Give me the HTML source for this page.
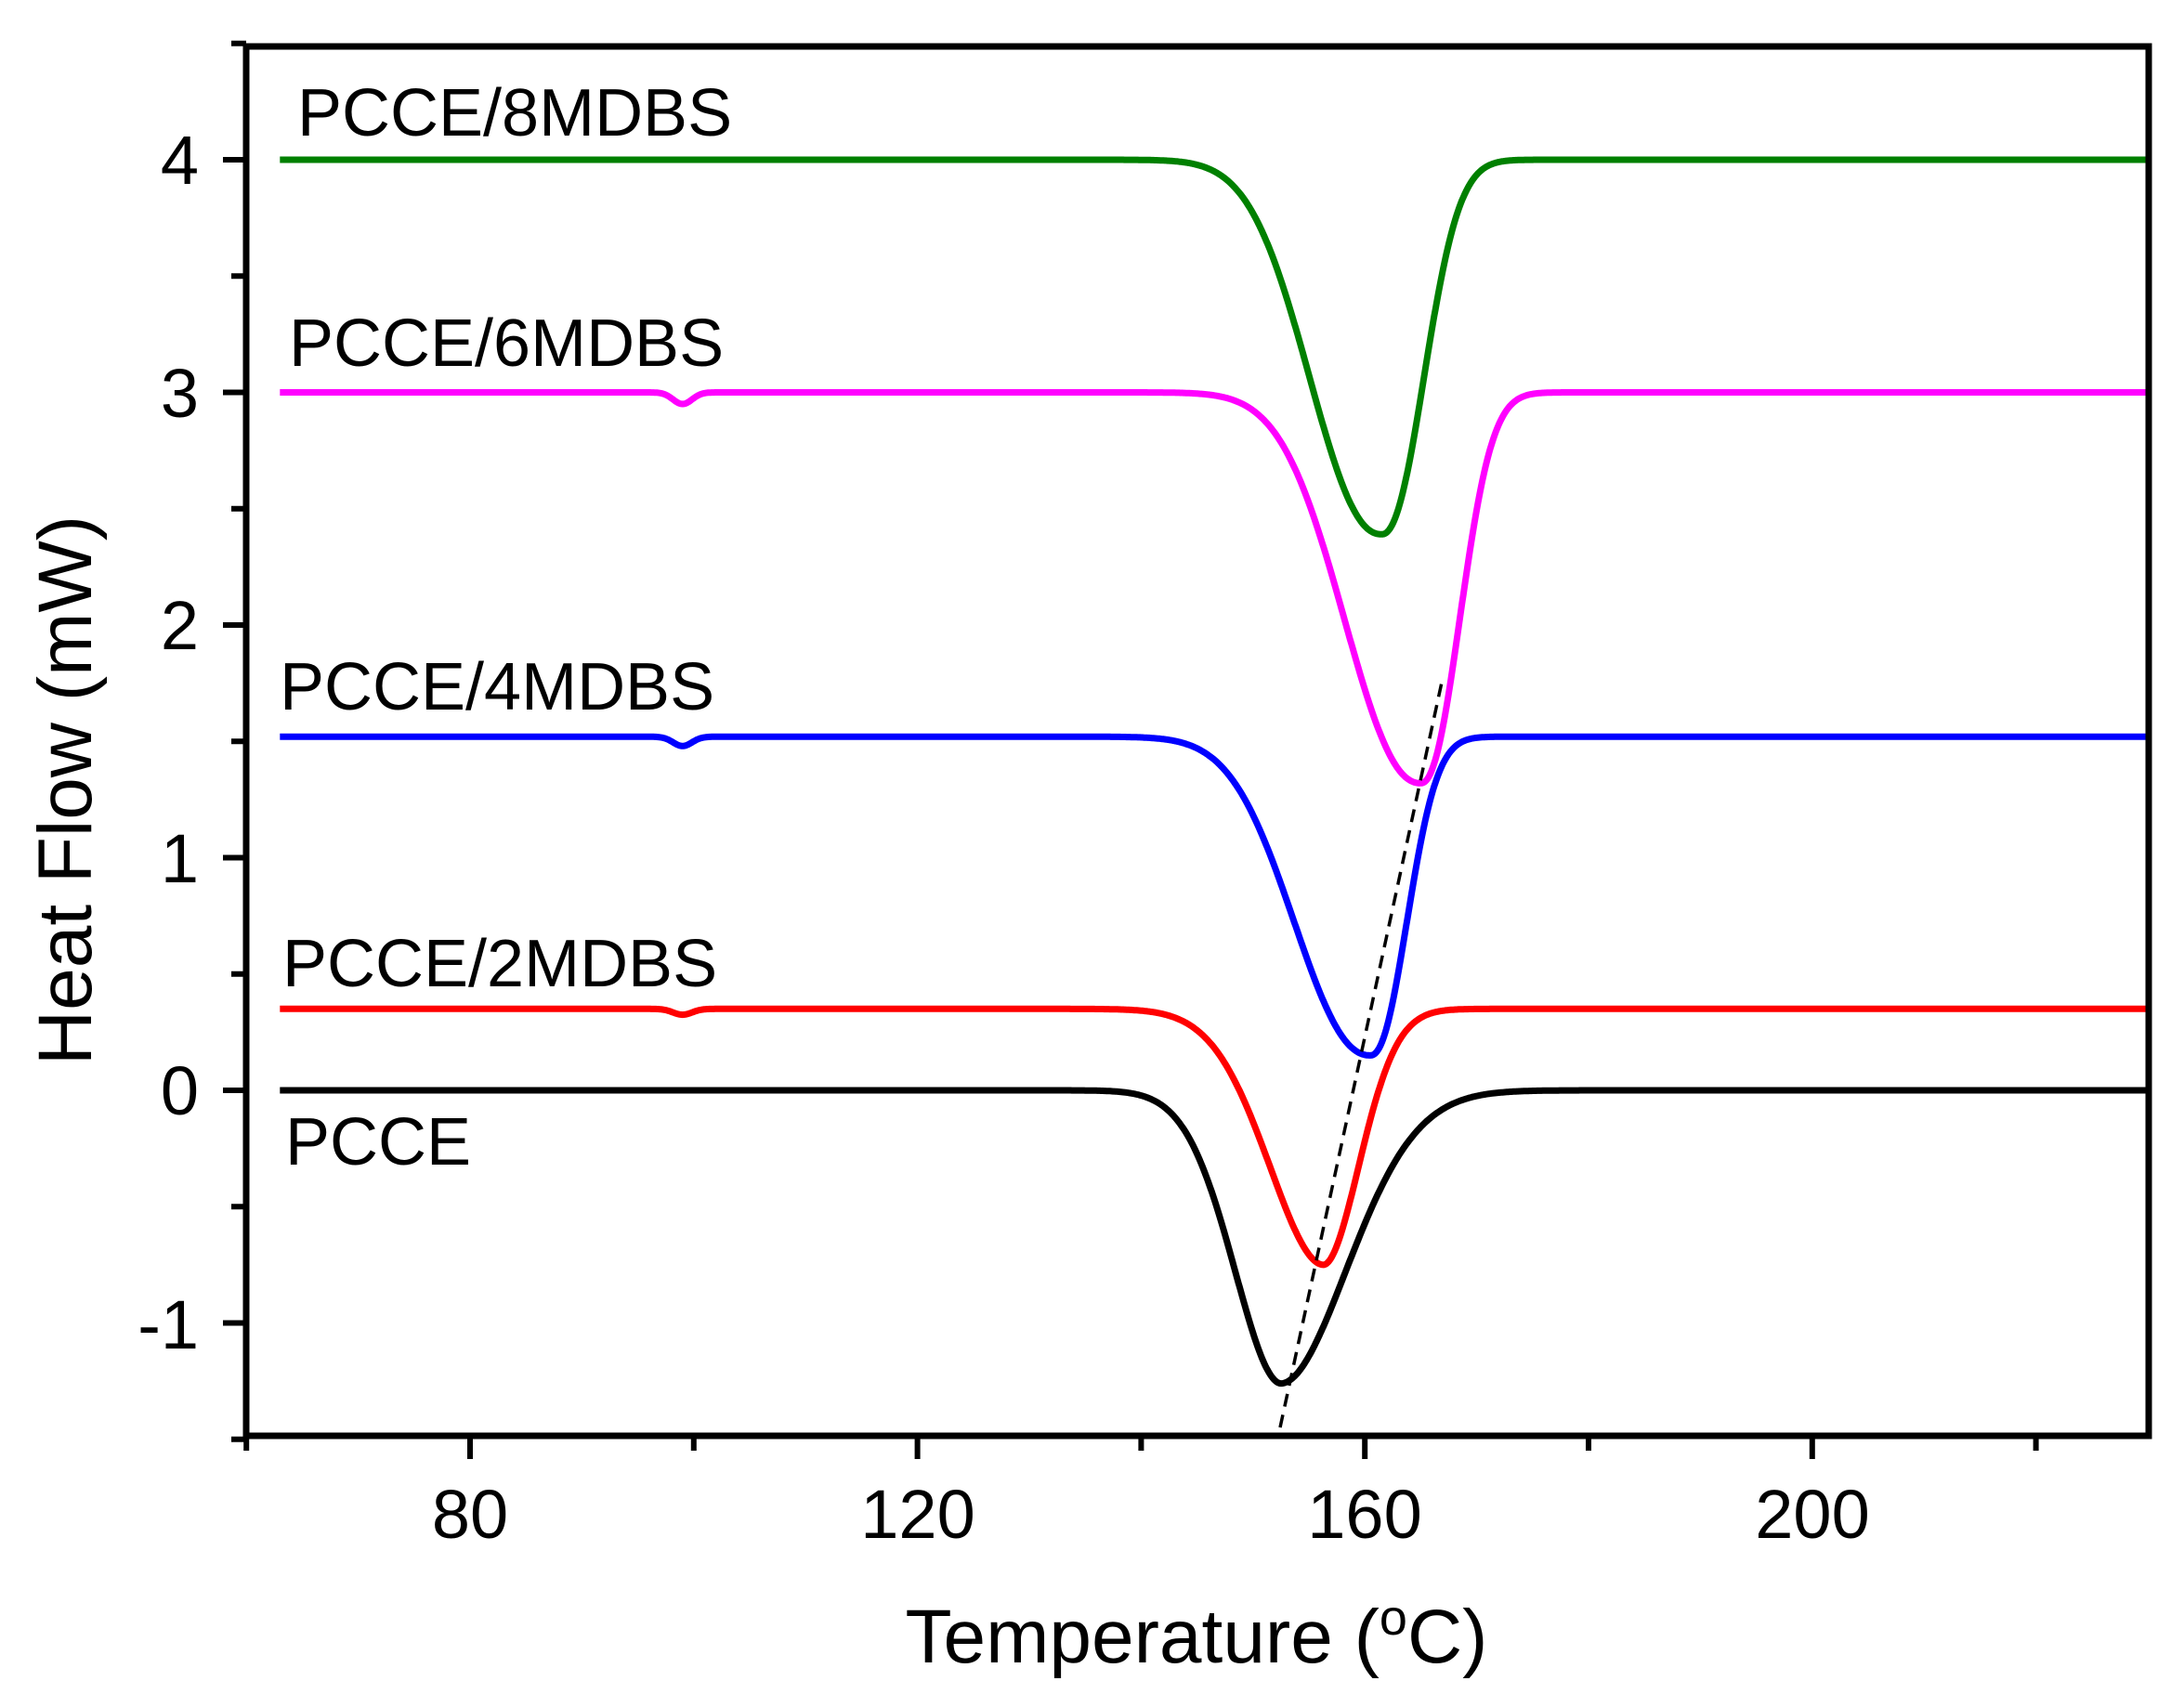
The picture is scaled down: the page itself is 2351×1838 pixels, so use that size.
<!DOCTYPE html>
<html><head><meta charset="utf-8"><style>
body{margin:0;background:#fff;width:2351px;height:1833px;overflow:hidden}
svg text{font-family:"Liberation Sans",Arial,sans-serif;fill:#000}
</style></head><body>
<svg id="s" width="2351" height="1833" xmlns="http://www.w3.org/2000/svg">
<g id="curves" fill="none" stroke-width="7" stroke-linejoin="round"></g>
<line x1="1378" y1="1537" x2="1553" y2="730" stroke="#000" stroke-width="3.5" stroke-dasharray="14,9"/>
<rect x="265" y="50" width="2048" height="1496" fill="none" stroke="#000" stroke-width="7"/>
<g id="ticks" stroke="#000" stroke-width="6"></g>
<g font-size="74">
<text x="506" y="1656" text-anchor="middle">80</text>
<text x="988" y="1656" text-anchor="middle">120</text>
<text x="1469" y="1656" text-anchor="middle">160</text>
<text x="1951" y="1656" text-anchor="middle">200</text>
<text x="214" y="1452" text-anchor="end">-1</text>
<text x="214" y="1200" text-anchor="end">0</text>
<text x="214" y="950" text-anchor="end">1</text>
<text x="214" y="699" text-anchor="end">2</text>
<text x="214" y="449" text-anchor="end">3</text>
<text x="214" y="198" text-anchor="end">4</text>
</g>
<g font-size="72">
<text x="320" y="146">PCCE/8MDBS</text>
<text x="311" y="394">PCCE/6MDBS</text>
<text x="301" y="764">PCCE/4MDBS</text>
<text x="304" y="1062">PCCE/2MDBS</text>
<text x="307" y="1254">PCCE</text>
</g>
<text x="1288" y="1790" font-size="82" text-anchor="middle">Temperature (<tspan font-size="54" dy="-30">o</tspan><tspan dy="30">C)</tspan></text>
<text transform="translate(98,851) rotate(-90)" font-size="82" text-anchor="middle">Heat Flow (mW)</text>
</svg>
<script>
var X=function(t){return 506+(t-80)*12.04},Y=function(v){return 1174-v*250.5};
function g(t,c,sl,sr,p){var s=t<c?sl:sr;return Math.exp(-Math.pow(Math.abs(t-c)/s,p));}
var S=[
 {c:'#000',b:0,d:[[1.26,152.5,6,8.5,1.9]],dip:0},
 {c:'#f00',b:0.35,d:[[1.1,156.3,7,4.6,1.9]],dip:0.025},
 {c:'#00f',b:1.52,d:[[1.37,160.5,9,4.3,2.2]],dip:0.04},
 {c:'#f0f',b:3.0,d:[[1.68,165,9,4.6,2.2]],dip:0.05},
 {c:'#008000',b:4.0,d:[[1.61,161.5,8.5,5,2.2]],dip:0}
];
var gc=document.getElementById('curves');
S.forEach(function(s){var p='';for(var t=63;t<=230;t+=0.1){var v=s.b;s.d.forEach(function(d){v-=d[0]*g(t,d[1],d[2],d[3],d[4]);});v-=s.dip*Math.exp(-Math.pow((t-99)/1.2,2));p+=(p?'L':'M')+X(t).toFixed(1)+' '+Y(v).toFixed(1);}
var e=document.createElementNS('http://www.w3.org/2000/svg','path');e.setAttribute('d',p);e.setAttribute('stroke',s.c);gc.appendChild(e);});
var tk=document.getElementById('ticks'),h='';
for(var t=60;t<=220;t+=20){var x=X(t),L=(t%40==0)?25:16;h+='<line x1="'+x+'" y1="1546" x2="'+x+'" y2="'+(1546+L)+'"/>';}
for(var v=-1.5;v<=4.5;v+=0.5){var y=Y(v),L=(Math.abs(v%1)<0.01)?25:16;h+='<line x1="265" y1="'+y+'" x2="'+(265-L)+'" y2="'+y+'"/>';}
tk.innerHTML=h;
</script>
</body></html>
